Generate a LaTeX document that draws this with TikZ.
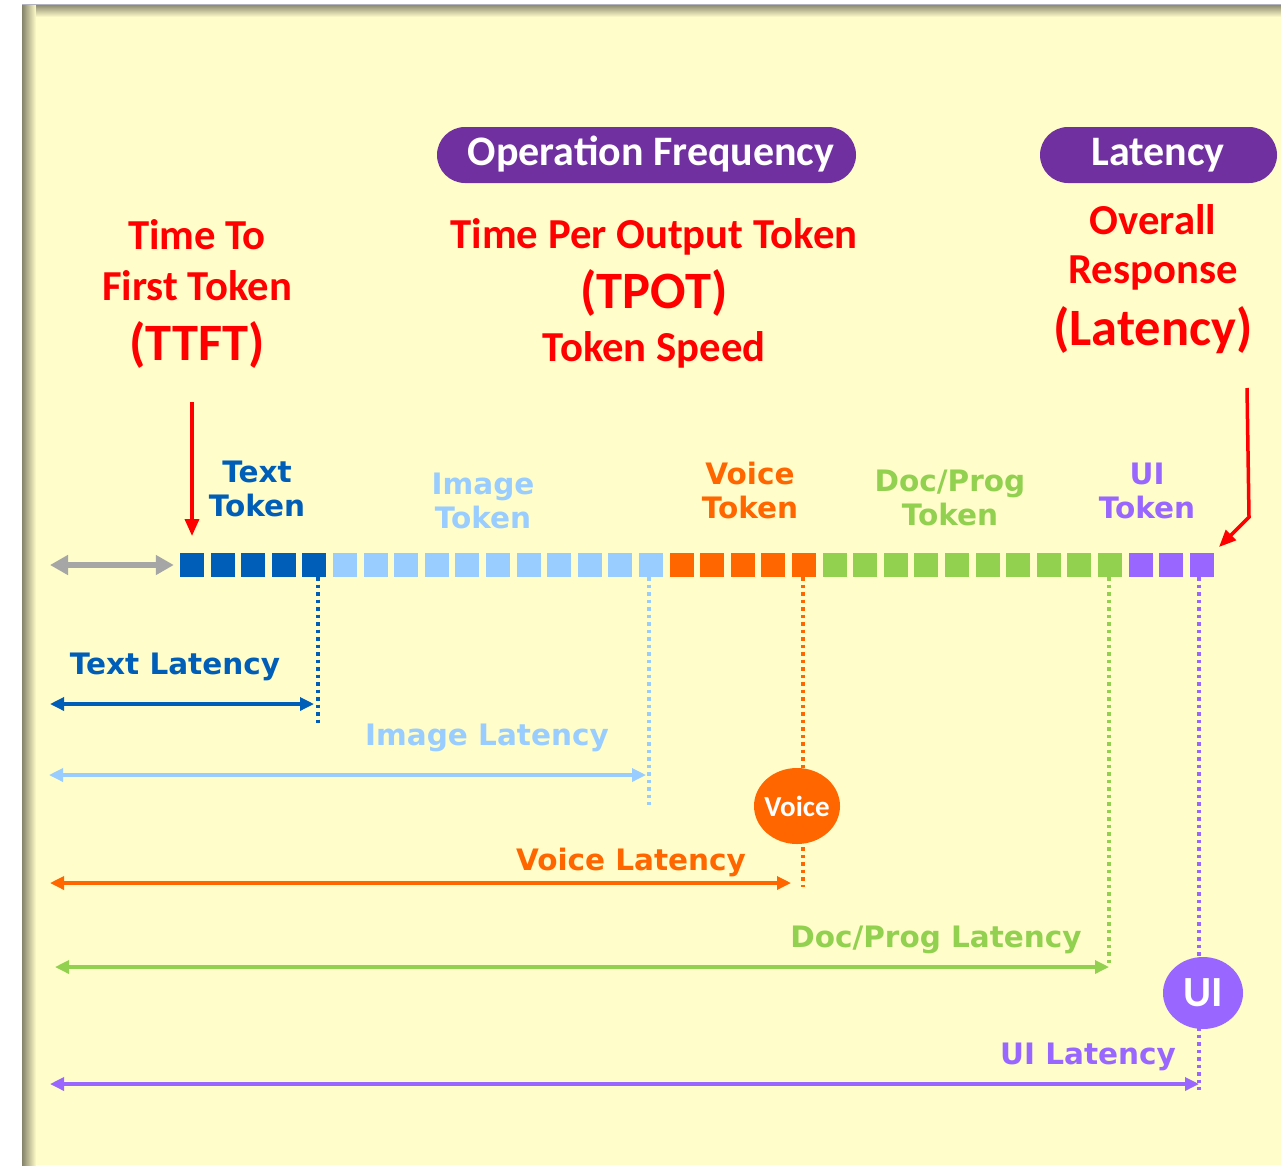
\documentclass[tikz,border=0pt]{standalone}
\usepackage{fontspec}
\setmainfont{Carlito}
\newfontfamily\verd{DejaVu Sans}
\usetikzlibrary{arrows.meta,shapes.geometric}

\definecolor{paper}{HTML}{FFFDC9}
\definecolor{edge}{HTML}{85836A}
\definecolor{rimline}{HTML}{B2B2BE}
\definecolor{cText}{HTML}{005EB8}
\definecolor{cImage}{HTML}{99CCFF}
\definecolor{cVoice}{HTML}{FF6600}
\definecolor{cDoc}{HTML}{92D050}
\definecolor{cUI}{HTML}{9966FF}
\definecolor{pill}{HTML}{7030A0}
\definecolor{hot}{HTML}{FF0000}
\definecolor{idle}{HTML}{A6A6A6}

\tikzset{
  tok/.style={rectangle, minimum size=24pt, inner sep=0pt, draw=none},
  head/.style={anchor=base, inner sep=0pt, text=hot, font=\fontsize{42.7}{46}\selectfont\bfseries},
  bighead/.style={head, font=\fontsize{52.5}{56}\selectfont\bfseries},
  pilltext/.style={rounded corners=28pt, fill=pill, text=white, inner sep=0pt,
    font=\fontsize{42}{46}\selectfont\bfseries},
  lab/.style={anchor=base, inner sep=0pt, font=\verd\fontsize{29.5}{33}\selectfont\bfseries},
  tlab/.style={anchor=base, inner sep=0pt, font=\verd\fontsize{29.5}{33}\selectfont\bfseries},
  guide/.style={line width=3.5pt, dash pattern=on 3.5pt off 4pt},
  span/.style={line width=3.3pt, {Triangle[length=14pt,width=13pt]}-{Triangle[length=14pt,width=13pt]}},
  pointer/.style={line width=3.5pt, draw=hot, -{Triangle[length=17pt,width=14pt]}},
  badge/.style={ellipse, inner sep=-8pt, text=white, font=\bfseries}
}

\begin{document}
\begin{tikzpicture}[x=1pt,y=-1pt]
\useasboundingbox (0,0) rectangle (1281,1165);

% panel with a soft shadowed rim on the left and top
\fill[white] (0,0) rectangle (1281,1165);
\fill[paper] (22,4) rectangle (1281,1165);
\shade[left color=edge, right color=paper] (22,4) rectangle (36,1165);
\shade[top color=edge, bottom color=paper] (36,4) rectangle (1281,17);
\draw[rimline, line width=1.5pt] (22,4.5) -- (1281,4.5);

% headline pills
\node[pilltext, minimum width=419pt, minimum height=56pt] (opfreq) at (646.5,155) {};
\node[anchor=base, inner sep=0pt, text=white, font=\fontsize{42}{46}\selectfont\bfseries] (opfreqT) at (651,165) {Operation Frequency};
\node[pilltext, minimum width=237pt, minimum height=56pt] (lat) at (1158.5,155) {};
\node[anchor=base, inner sep=0pt, text=white, font=\fontsize{42}{46}\selectfont\bfseries] (latT) at (1158,165) {Latency};

% red headings
\node[head] (ttftA) at (197,249) {Time To};
\node[head] (ttftB) at (197,300) {First Token};
\node[bighead] (ttftC) at (197,360) {(TTFT)};

\node[head] (tpotA) at (654,248) {Time Per Output Token};
\node[bighead] (tpotB) at (654,308) {(TPOT)};
\node[head] (tpotC) at (654,361) {Token Speed};

\node[head] (ovA) at (1153,234) {Overall};
\node[head] (ovB) at (1153,283) {Response};
\node[bighead] (ovC) at (1153,345) {(Latency)};

% token strip
\foreach \i in {1,...,5}   \node[tok, fill=cText]  (t\i) at ({192+30.6*(\i-1)},565) {};
\foreach \i in {6,...,16}  \node[tok, fill=cImage] (t\i) at ({192+30.6*(\i-1)},565) {};
\foreach \i in {17,...,21} \node[tok, fill=cVoice] (t\i) at ({192+30.6*(\i-1)},565) {};
\foreach \i in {22,...,31} \node[tok, fill=cDoc]   (t\i) at ({192+30.6*(\i-1)},565) {};
\foreach \i in {32,...,34} \node[tok, fill=cUI]    (t\i) at ({192+30.6*(\i-1)},565) {};

% waiting time before the first token
\coordinate (waitL) at (50,565);
\draw[idle, line width=5.5pt, {Triangle[length=18pt,width=19pt]}-{Triangle[length=18pt,width=19pt]}]
  (waitL) -- ([xshift=-6pt]t1.west);

% token group labels
\node[tlab, text=cText]  (ltA) at (257,482) {Text};
\node[tlab, text=cText]  (ltB) at (257,516) {Token};
\node[tlab, text=cImage] (liA) at (483,494) {Image};
\node[tlab, text=cImage] (liB) at (483,528) {Token};
\node[tlab, text=cVoice] (lvA) at (750,484) {Voice};
\node[tlab, text=cVoice] (lvB) at (750,518) {Token};
\node[tlab, text=cDoc]   (ldA) at (950,491) {Doc/Prog};
\node[tlab, text=cDoc]   (ldB) at (950,525) {Token};
\node[tlab, text=cUI]    (luA) at (1147,484) {UI};
\node[tlab, text=cUI]    (luB) at (1147,518) {Token};

% red pointers
\coordinate (ttftTail) at (192,402);
\coordinate (ttftTip) at (192,536);
\draw[pointer] (ttftTail) -- (ttftTip);
\coordinate (ovTail) at (1247,388);
\coordinate (ovBend) at (1249,517);
\coordinate (ovTip) at (1219,547);
\draw[pointer] (ovTail) -- (ovBend) -- (ovTip);

% completion guides
\coordinate (eText)  at (318,724);
\coordinate (eImage) at (649,805);
\coordinate (eVoice) at (803,887);
\coordinate (eDoc)   at (1109,966);
\coordinate (eUI)    at (1199,1090);
\draw[guide, cText]  (eText |- t5.south)   -- (eText);
\draw[guide, cImage] (eImage |- t16.south) -- (eImage);
\draw[guide, cVoice] (eVoice |- t21.south) -- (eVoice);
\draw[guide, cDoc]   (eDoc |- t31.south)   -- (eDoc);
\draw[guide, cUI]    (eUI |- t34.south)    -- (eUI);

% badges
\node[badge, fill=cVoice, minimum width=86pt, minimum height=76pt,
      font=\fontsize{29}{32}\selectfont\bfseries] (voice) at (797,806) {Voice};
\node[badge, fill=cUI, minimum width=80pt, minimum height=72pt,
      font=\fontsize{43}{46}\selectfont\bfseries] (ui) at (1203,993) {UI};

% latency spans
\coordinate (sText)  at (50,704);   \coordinate (fText)  at (314,704);
\coordinate (sImage) at (49,775);   \coordinate (fImage) at (646,775);
\coordinate (sVoice) at (50,883);   \coordinate (fVoice) at (791,883);
\coordinate (sDoc)   at (55,967);   \coordinate (fDoc)   at (1109,967);
\coordinate (sUI)    at (50,1084);  \coordinate (fUI)    at (1199,1084);
\draw[span, cText]  (sText)  -- (fText);
\draw[span, cImage] (sImage) -- (fImage);
\draw[span, cVoice] (sVoice) -- (fVoice);
\draw[span, cDoc]   (sDoc)   -- (fDoc);
\draw[span, cUI]    (sUI)    -- (fUI);

\node[lab, text=cText]  (latText)  at (175,674)  {Text Latency};
\node[lab, text=cImage] (latImage) at (487,745)  {Image Latency};
\node[lab, text=cVoice] (latVoice) at (631,870)  {Voice Latency};
\node[lab, text=cDoc]   (latDoc)   at (936,947)  {Doc/Prog Latency};
\node[lab, text=cUI]    (latUI)    at (1088,1064) {UI Latency};
\end{tikzpicture}
\end{document}
